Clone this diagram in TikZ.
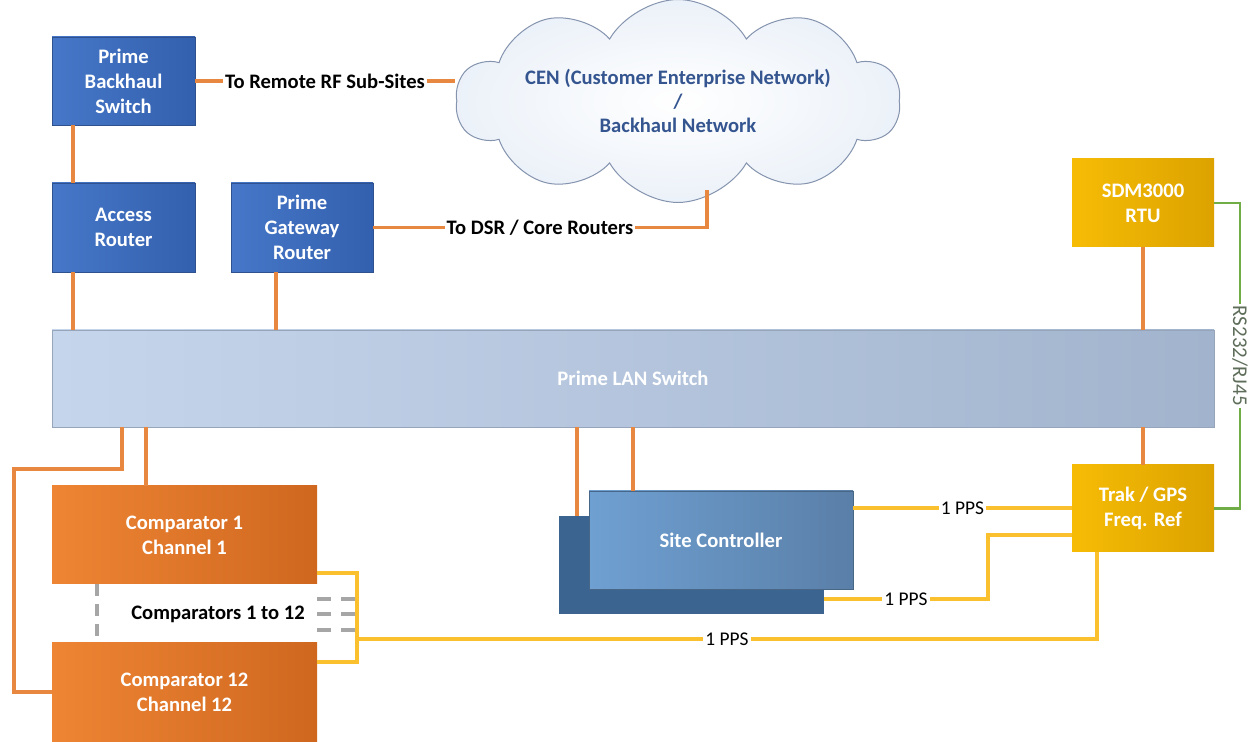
\documentclass[tikz,border=0pt]{standalone}
\usepackage{fontspec}
\setmainfont{Carlito}
\usetikzlibrary{shapes.symbols,calc}
\definecolor{bluetop}{HTML}{4677C8}
\definecolor{bluebot}{HTML}{3360AE}
\definecolor{blueedge}{HTML}{2F528F}
\definecolor{orgA}{HTML}{EE8534}
\definecolor{orgB}{HTML}{CF671F}
\definecolor{ylwA}{HTML}{F6BC05}
\definecolor{ylwB}{HTML}{DCA200}
\definecolor{lanA}{HTML}{C5D6EC}
\definecolor{lanB}{HTML}{A2B3CD}
\definecolor{lanEdge}{HTML}{96A5BA}
\definecolor{scA}{HTML}{6FA0D2}
\definecolor{scB}{HTML}{5A7FA8}
\definecolor{scBack}{HTML}{3B6590}
\definecolor{oLine}{HTML}{E8873F}
\definecolor{yLine}{HTML}{FBC02D}
\definecolor{gLine}{HTML}{70AD47}
\definecolor{gText}{HTML}{5E6E5A}
\definecolor{cloudEdge}{HTML}{8493AE}
\definecolor{cloudFill}{HTML}{F5F8FC}
\definecolor{cloudText}{HTML}{34558F}
\definecolor{dashGray}{HTML}{A6A6A6}
\begin{document}
\begin{tikzpicture}[x=0.5pt,y=-0.5pt,
  boxbase/.style={inner sep=0pt,outer sep=0pt,align=center,text=white,
    font=\fontsize{10.3}{12.5}\selectfont\bfseries},
  bbox/.style={boxbase,left color=bluetop,right color=bluebot,draw=blueedge,line width=0.4pt},
  obox/.style={boxbase,left color=orgA,right color=orgB},
  ybox/.style={boxbase,left color=ylwA,right color=ylwB},
  lanbox/.style={boxbase,left color=lanA,right color=lanB,draw=lanEdge,line width=0.4pt},
  scfront/.style={boxbase,left color=scA,right color=scB,draw=scB!80!black,line width=0.3pt},
  scbackbox/.style={boxbase,fill=scBack},
  cloudn/.style={cloud,cloud puffs=10,cloud puff arc=120,aspect=3,draw=cloudEdge,
    line width=0.5pt,inner color=white,outer color=cloudFill!80!lanA,text=cloudText,align=center,
    inner xsep=-4pt,inner ysep=-7pt,
    minimum width=222pt,minimum height=60pt,font=\fontsize{10.3}{12}\selectfont\bfseries},
  oline/.style={draw=oLine,line width=1.6pt},
  yline/.style={draw=yLine,line width=1.8pt},
  gline/.style={draw=gLine,line width=1.4pt},
  gdash/.style={draw=dashGray,line width=1.6pt,dash pattern=on 6pt off 4pt},
  gdash2/.style={draw=dashGray,line width=1.6pt,dash pattern=on 7pt off 5pt},
  lbl/.style={fill=white,inner sep=1pt,text=black,font=\fontsize{10.3}{11}\selectfont\bfseries},
  plbl/.style={fill=white,inner sep=1pt,text=black,font=\fontsize{9.7}{10}\selectfont},
  rlbl/.style={fill=white,inner sep=1pt,text=gText,rotate=-90,font=\fontsize{10.5}{11}\selectfont}
]
\useasboundingbox (0,0) rectangle (1248,742);

% nodes
\node[bbox,minimum width=71.5pt,minimum height=44pt] (PBS) at (123.5,81) {Prime\\Backhaul\\Switch};
\node[bbox,minimum width=71.5pt,minimum height=44.5pt] (AR) at (123.5,227.5) {Access\\Router};
\node[bbox,minimum width=71pt,minimum height=44.5pt] (PGR) at (302,227.5) {Prime\\Gateway\\Router};
\node[cloudn] (CEN) at (678,101) {CEN (Customer Enterprise Network)\\/\\Backhaul Network};
\node[ybox,minimum width=71pt,minimum height=44pt] (RTU) at (1143,203) {SDM3000\\RTU};
\node[lanbox,minimum width=581pt,minimum height=48.5pt] (LAN) at (633,378.5) {Prime LAN Switch};
\node[ybox,minimum width=71pt,minimum height=43.5pt] (TRAK) at (1143,508.5) {Trak / GPS\\Freq. Ref};
\node[obox,minimum width=132.5pt,minimum height=49pt] (C1) at (184.5,535) {Comparator 1\\Channel 1};
\node[obox,minimum width=132.5pt,minimum height=49pt] (C12) at (184.5,692) {Comparator 12\\Channel 12};
\node[scbackbox,minimum width=132.5pt,minimum height=49pt] (SCB) at (691.5,565) {};
\node[scfront,minimum width=132pt,minimum height=49pt] (SCF) at (721,540) {Site Controller};
\node[text=black,font=\fontsize{10.3}{11}\selectfont\bfseries] (CMP) at (218,614) {Comparators 1 to 12};

\coordinate (cloudL) at (455,81);
\coordinate (cloudB) at (707,190);
\coordinate (br) at (357,639);
\coordinate (ts) at ([xshift=12.5pt]TRAK.south west);

% orange network links
\draw[oline] (PBS.east) -- node[lbl]{To Remote RF Sub-Sites} (cloudL);
\draw[oline] (PGR.east) -- node[lbl]{To DSR / Core Routers} (PGR.east -| cloudB) -- (cloudB);
\draw[oline] ([xshift=10.5pt]PBS.south west) -- ([xshift=10.5pt]AR.north west);
\draw[oline] ([xshift=10.5pt]AR.south west) -- ([xshift=10.5pt]AR.south west |- LAN.north);
\draw[oline] ([xshift=22.5pt]PGR.south west) -- ([xshift=22.5pt]PGR.south west |- LAN.north);
\draw[oline] (RTU.south) -- (RTU.south |- LAN.north);
\draw[oline] (LAN.south -| TRAK.north) -- (TRAK.north);
\draw[oline] ([xshift=35pt]LAN.south west) |- (14,469) |- (C12.west);
\draw[oline] ([xshift=47pt]LAN.south west) -- ([xshift=47pt]C1.north west);
\draw[oline] ([xshift=9pt]SCB.north west |- LAN.south) -- ([xshift=9pt]SCB.north west);
\draw[oline] ([xshift=22pt]SCF.north west |- LAN.south) -- ([xshift=22pt]SCF.north west);

% green serial link
\draw[gline] (RTU.east) -- ++(26,0) |- node[pos=0.25,rlbl]{RS232/RJ45} (TRAK.east);

% yellow 1 PPS links
\draw[yline] ([yshift=16pt]SCF.east) -- node[plbl]{1 PPS} ([yshift=16pt]SCF.east -| TRAK.west);
\draw[yline] ([yshift=-17pt]SCB.east) -- node[plbl]{1 PPS} ++(164,0) |- ([yshift=-13.25pt]TRAK.west);
\draw[yline] ([yshift=-19pt]C1.east) -- ++(40,0) |- ([yshift=15pt]C12.east);
\draw[yline] (br) -- node[plbl]{1 PPS} (br -| ts) -- (ts);

% gray dashed "1 to 12" marks
\draw[gdash] ([xshift=22.5pt]C1.south west) -- ([xshift=22.5pt]C12.north west);
\foreach \yy in {599,614,630}{
  \draw[gdash2] (C1.east |- 0,\yy) -- ++(40,0);
}
\end{tikzpicture}
\end{document}
